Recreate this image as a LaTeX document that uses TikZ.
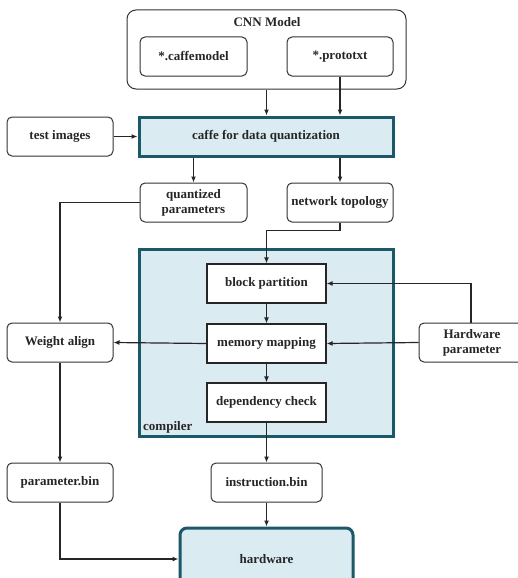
\documentclass[tikz,border=0pt]{standalone}
\usepackage{fontspec}
\setmainfont{Liberation Serif}
\usetikzlibrary{arrows.meta}
\definecolor{teal}{HTML}{1B5868}
\definecolor{lblue}{HTML}{DAEBF2}
\definecolor{edge}{HTML}{333333}
\tikzset{
  base/.style={inner sep=1pt, align=center, font=\fontsize{13}{15}\selectfont\bfseries, text=black!85},
  rbox/.style={base, draw=edge, line width=1pt, rounded corners=5pt, fill=white},
  sbox/.style={base, draw=black!85, line width=1.2pt, fill=white},
  tbox/.style={base, draw=teal, line width=3pt, fill=lblue},
  arr/.style={draw=black!85, line width=1.2pt, -{Latex[length=6pt,width=5pt]}},
}
\begin{document}
\begin{tikzpicture}[x=1pt,y=-1pt]
\useasboundingbox (0,0) rectangle (518,578);
% containers
\node[rbox, minimum width=279, minimum height=79, rounded corners=9pt] (cnn) at (266.5,49.5) {};
\node[base] (cnnlbl) at (267,22) {CNN Model};
\node[tbox, minimum width=254, minimum height=187] (comp) at (266,342.5) {};
\node[base, anchor=base west] (complbl) at (142,430) {compiler};
% nodes
\node[rbox, minimum width=107, minimum height=39] (cm) at (193.5,56.5) {*.caffemodel};
\node[rbox, minimum width=106, minimum height=39] (pt) at (340,56.5) {*.prototxt};
\node[tbox, minimum width=254, minimum height=39] (caffe) at (266,136.5) {caffe for data quantization};
\node[rbox, minimum width=106, minimum height=39] (test) at (60,136.5) {test images};
\node[rbox, minimum width=107, minimum height=39] (quant) at (193.5,202.5) {quantized\\parameters};
\node[rbox, minimum width=106, minimum height=39] (topo) at (340,202.5) {network topology};
\node[sbox, minimum width=119, minimum height=39] (block) at (266.5,283.5) {block partition};
\node[sbox, minimum width=119, minimum height=39] (mem) at (266.5,343.5) {memory mapping};
\node[sbox, minimum width=119, minimum height=39] (dep) at (266.5,402.5) {dependency check};
\node[rbox, minimum width=106, minimum height=39] (weight) at (60,342.5) {Weight align};
\node[rbox, minimum width=106, minimum height=39] (hwp) at (472,342.5) {Hardware\\parameter};
\node[rbox, minimum width=106, minimum height=39] (param) at (60,482.5) {parameter.bin};
\node[rbox, minimum width=111, minimum height=39] (instr) at (266.5,482.5) {instruction.bin};
\node[tbox, minimum width=173, minimum height=62, rounded corners=7pt] (hw) at (266.5,559) {hardware};
% connectors
\draw[arr] (cnn.south) -- (cnn.south |- caffe.north);
\draw[arr] (pt.south) -- (pt.south |- caffe.north);
\draw[arr] (test.east) -- (caffe.west);
\draw[arr] (caffe.south -| quant.north) -- (quant.north);
\draw[arr] (caffe.south -| topo.north) -- (topo.north);
\draw[arr] (quant.west) -| (weight.north);
\draw[arr] (topo.south) -- ++(0,8) -| (block.north);
\draw[arr] (block.south) -- (mem.north);
\draw[arr] (mem.south) -- (dep.north);
\draw[arr] ([xshift=-1pt]hwp.north) |- (block.east);
\draw[arr] (hwp.west) -- (mem.east);
\draw[arr] (mem.west) -- (weight.east);
\draw[arr] (weight.south) -- (param.north);
\draw[arr] (dep.south) -- (instr.north);
\draw[arr] (instr.south) -- (hw.north);
\draw[arr] (param.south) |- (hw.west);
\end{tikzpicture}
\end{document}
